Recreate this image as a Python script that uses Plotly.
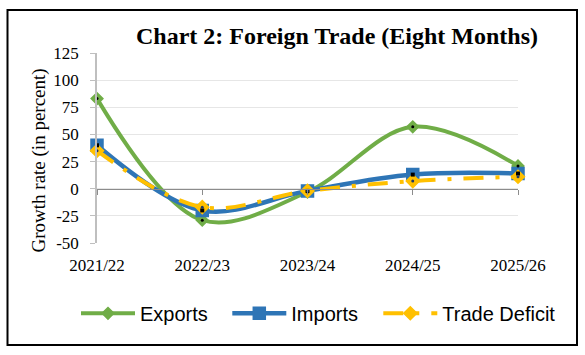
import plotly.graph_objects as go

years = ["2021/22", "2022/23", "2023/24", "2024/25", "2025/26"]
exports = [83, -29, -3, 57, 21]
imports = [40, -20, -2, 13, 14]
trade_deficit = [35, -17, -2, 7, 11]
y_ticks = [125, 100, 75, 50, 25, 0, -25, -50]
y_tick_text = ["125", "100", "75", "50", "25", "0", "-25", "-50"]

GREEN = "#70AD47"
BLUE = "#2E75B6"
YELLOW = "#FFC000"
SERIF = "Liberation Serif, Times New Roman, serif"
SANS = "Liberation Sans, Arial, sans-serif"

fig = go.Figure()
fig.add_trace(go.Scatter(
    x=years, y=exports, name="Exports", mode="lines+markers", cliponaxis=False, legend="legend",
    line=dict(color=GREEN, width=4, shape="spline", smoothing=1),
    marker=dict(symbol="diamond", size=9, color=GREEN, line=dict(color=GREEN, width=1.5)),
))
fig.add_trace(go.Scatter(
    x=years, y=imports, name="Imports", mode="lines+markers", cliponaxis=False, legend="legend2",
    line=dict(color=BLUE, width=4.5, shape="spline", smoothing=1),
    marker=dict(symbol="square", size=12, color=BLUE, line=dict(color=BLUE, width=1.5)),
))
fig.add_trace(go.Scatter(
    x=years, y=trade_deficit, name="Trade Deficit", mode="lines+markers", cliponaxis=False,
    legend="legend3",
    line=dict(color=YELLOW, width=4, shape="spline", smoothing=1, dash="20px,12px,4px,12px"),
    marker=dict(symbol="diamond", size=10, color=YELLOW, line=dict(color=YELLOW, width=1.5)),
))
# center dots of markers
fig.add_trace(go.Scatter(x=years, y=exports, mode="markers", showlegend=False, xaxis="x2",
                         cliponaxis=False,
                         marker=dict(symbol="circle", size=3, color="black"), hoverinfo="skip"))
fig.add_trace(go.Scatter(x=years, y=imports, mode="markers", showlegend=False, xaxis="x2",
                         cliponaxis=False,
                         marker=dict(symbol="square", size=4, color="black"), hoverinfo="skip"))
fig.add_trace(go.Scatter(x=years, y=trade_deficit, mode="markers", showlegend=False, xaxis="x2",
                         cliponaxis=False,
                         marker=dict(symbol="circle", size=3, color="#1F3864"), hoverinfo="skip"))

legend_common = dict(orientation="h", y=-0.37, xanchor="left", yanchor="middle",
                     font=dict(family=SANS, size=20, color="black"),
                     itemwidth=54, bgcolor="rgba(0,0,0,0)")

fig.update_layout(
    width=585, height=355,
    margin=dict(l=97, r=67, t=53, b=112, pad=0),
    paper_bgcolor="white", plot_bgcolor="white",
    showlegend=True,
    legend=dict(x=(82 - 6 - 97) / 421, **legend_common),
    legend2=dict(x=(233.3 - 6 - 97) / 421, **legend_common),
    legend3=dict(x=(384.3 - 6 - 97) / 421, **legend_common),
    xaxis=dict(type="category", categoryorder="array", categoryarray=years,
               range=[0, 4], showline=False, showgrid=False, zeroline=False,
               ticks="", ticklabelstandoff=10,
               tickfont=dict(family=SERIF, size=17, color="black")),
    xaxis2=dict(type="category", categoryorder="array", categoryarray=years,
                range=[0, 4], overlaying="x", anchor="free", position=50/175,
                showline=True, linecolor="#8C8C8C", linewidth=1,
                ticks="outside", ticklen=5, tickcolor="#8C8C8C", tickwidth=1,
                showticklabels=False, showgrid=False, zeroline=False),
    yaxis=dict(range=[-50, 125], tickmode="array", tickvals=y_ticks, ticktext=y_tick_text,
               showline=True, linecolor="#BFBFBF", linewidth=1.5,
               ticks="outside", ticklen=5, tickcolor="#BFBFBF",
               showgrid=True, gridcolor="#E6E6E6", gridwidth=1, zeroline=False,
               ticklabelstandoff=8,
               tickfont=dict(family=SERIF, size=17, color="black")),
    annotations=[
        dict(text="<b>Chart 2: Foreign Trade (Eight Months)</b>", xref="paper", yref="paper",
             x=(336.5 - 97) / 421, y=(243 - 36) / 190, xanchor="center", yanchor="middle",
             showarrow=False, font=dict(family=SERIF, size=24, color="black")),
        dict(text="Growth rate (in percent)", xref="paper", yref="paper",
             x=(38 - 97) / 421, y=(243 - 160.5) / 190, xanchor="center", yanchor="middle",
             textangle=-90, showarrow=False, font=dict(family=SERIF, size=19, color="black")),
    ],
    shapes=[
        dict(type="rect", xref="paper", yref="paper",
             x0=(7.5 - 97) / 421, x1=(577 - 97) / 421,
             y0=(243 - 345) / 190, y1=(243 - 10) / 190,
             line=dict(color="black", width=2), fillcolor="rgba(0,0,0,0)", layer="below"),
    ],
)

fig.write_html("out.html")
